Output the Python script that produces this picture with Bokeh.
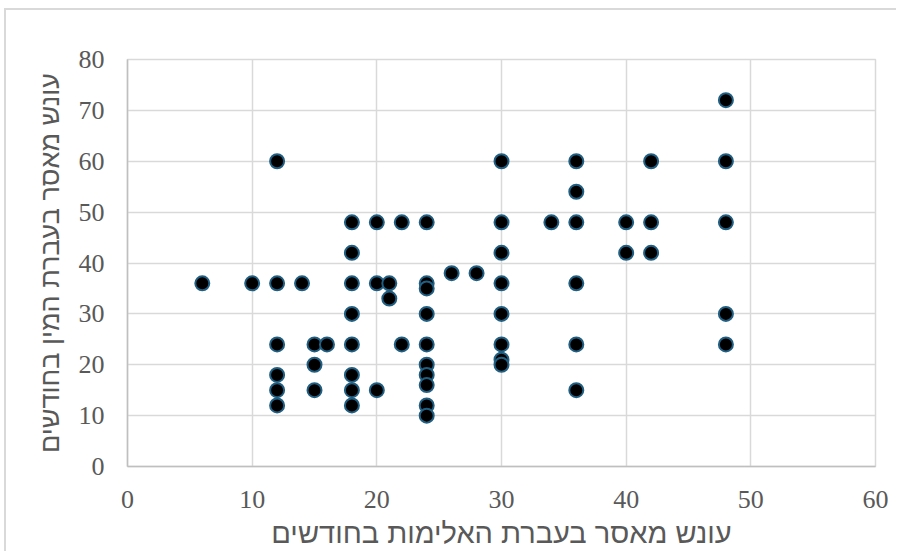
from bokeh.plotting import figure
from bokeh.models import ColumnDataSource, Range1d, FixedTicker
from bokeh.embed import file_html
from bokeh.resources import INLINE

# Data: (violence sentence months, sex-offence sentence months)
x_violence = [6, 10,
              12, 12, 12, 12, 12, 12,
              14,
              15, 15, 15,
              16,
              18, 18, 18, 18, 18, 18, 18, 18,
              20, 20, 20,
              21, 21,
              22, 22,
              24, 24, 24, 24, 24, 24, 24, 24, 24, 24,
              26, 28,
              30, 30, 30, 30, 30, 30, 30, 30,
              34,
              36, 36, 36, 36, 36, 36,
              40, 40,
              42, 42, 42,
              48, 48, 48, 48, 48]
y_sex = [36, 36,
         60, 36, 24, 18, 15, 12,
         36,
         24, 20, 15,
         24,
         48, 42, 36, 30, 24, 18, 15, 12,
         48, 36, 15,
         36, 33,
         48, 24,
         48, 36, 35, 30, 24, 20, 18, 16, 12, 10,
         38, 38,
         60, 48, 42, 36, 30, 24, 21, 20,
         48,
         60, 54, 48, 36, 24, 15,
         48, 42,
         60, 48, 42,
         72, 60, 48, 30, 24]

x_ticks = [0, 10, 20, 30, 40, 50, 60]
y_ticks = [0, 10, 20, 30, 40, 50, 60, 70, 80]
x_title = "עונש מאסר בעברת האלימות בחודשים"
y_title = "עונש מאסר בעברת המין בחודשים"

source = ColumnDataSource(data=dict(x=x_violence, y=y_sex))

p = figure(width=896, height=551, output_backend="svg", toolbar_location=None,
           x_range=Range1d(0, 60), y_range=Range1d(0, 80),
           min_border_left=127, min_border_right=21,
           min_border_top=59, min_border_bottom=85)

# outer chart border (left and top edges visible), drawn as page background
p.border_fill_color = None
p.styles = {
    "background": ("linear-gradient(#d9d9d9, #d9d9d9) 4px 8px / 2px 100% no-repeat, "
                   "linear-gradient(#d9d9d9, #d9d9d9) 4px 8px / 100% 2px no-repeat, "
                   "white"),
}

p.scatter("x", "y", source=source, size=14, fill_color="black",
          line_color="#215f82", line_width=2)

p.outline_line_color = "#d9d9d9"
p.outline_line_width = 1.5
p.background_fill_color = "white"

for g in (p.xgrid, p.ygrid):
    g.grid_line_color = "#d9d9d9"
    g.grid_line_width = 1.5
p.xgrid.ticker = FixedTicker(ticks=x_ticks)
p.ygrid.ticker = FixedTicker(ticks=y_ticks)

p.xaxis.ticker = FixedTicker(ticks=x_ticks)
p.yaxis.ticker = FixedTicker(ticks=y_ticks)

for ax in (p.xaxis[0], p.yaxis[0]):
    ax.axis_line_color = "#bfbfbf"
    ax.axis_line_width = 1.5
    ax.major_tick_line_color = None
    ax.minor_tick_line_color = None
    ax.major_tick_out = 0
    ax.major_tick_in = 0
    ax.major_label_text_font = "Liberation Serif"
    ax.major_label_text_font_size = "26px"
    ax.major_label_text_color = "#595959"
    ax.axis_label_text_font = "Liberation Sans"
    ax.axis_label_text_font_style = "normal"
    ax.axis_label_text_color = "#595959"

p.xaxis.axis_label = x_title
p.yaxis.axis_label = y_title
p.xaxis.axis_label_text_font_size = "29px"
p.yaxis.axis_label_text_font_size = "27px"
p.xaxis.axis_label_text_line_height = 0.7
p.xaxis.major_label_standoff = 24
p.yaxis.major_label_standoff = 23
p.xaxis.axis_label_standoff = 6
p.yaxis.axis_label_standoff = 11

open("out.html", "w").write(file_html(p, INLINE))
